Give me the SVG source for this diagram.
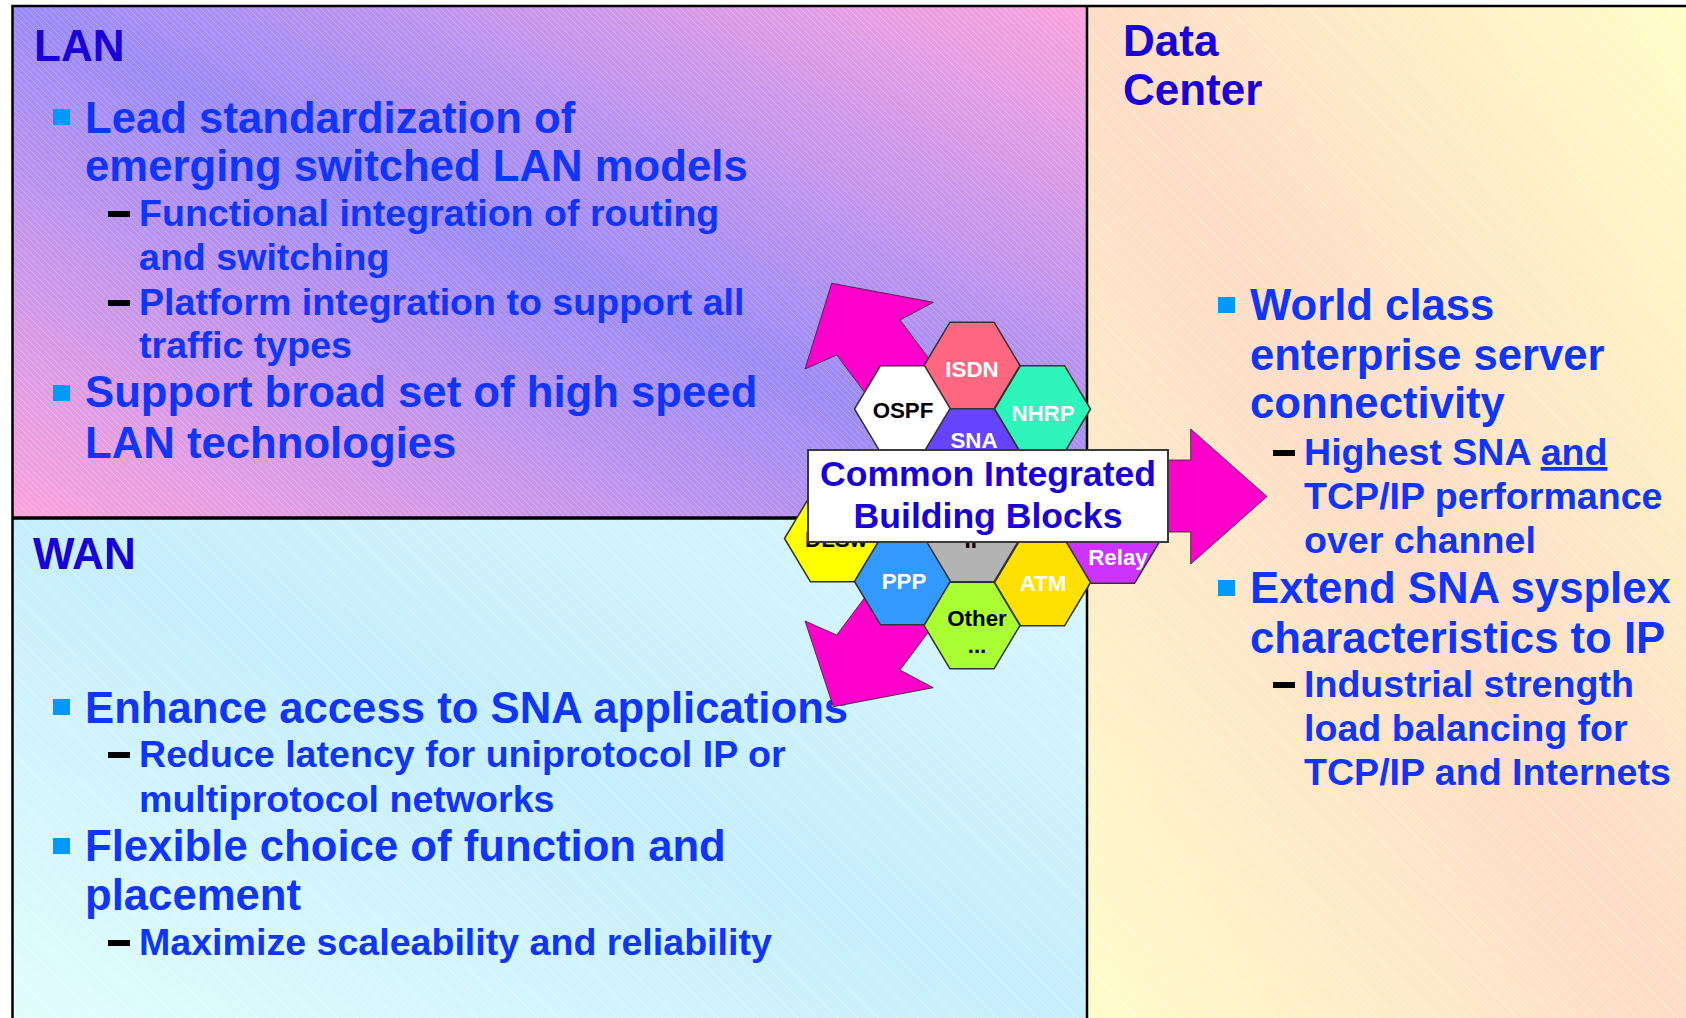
<svg xmlns="http://www.w3.org/2000/svg" width="1686" height="1018" viewBox="0 0 1686 1018">
<defs>
<style>
.t{font-family:"Liberation Sans",Arial,sans-serif;font-weight:bold}
.title{font-size:44px;fill:#1A00D8}
.b1{font-size:43.7px;fill:#1035FA}
.b2{font-size:37.6px;fill:#1035FA}
.sq{fill:#0099FF}
.dash{fill:#000}
.hex{stroke:#333;stroke-width:1.5;stroke-linejoin:round}
.hl{font-size:22.3px;text-anchor:middle}
.w{fill:#fff}
.k{fill:#000}
.arrow{fill:#FF00CC;stroke:#222;stroke-width:0.8;stroke-linejoin:miter}
.frame{stroke:#000;fill:none}
</style>
<linearGradient id="gLan" x1="0" y1="1" x2="1" y2="0">
<stop offset="0" stop-color="#FCA3DC"/>
<stop offset="0.5" stop-color="#9B8BF8"/>
<stop offset="1" stop-color="#FBA3DD"/>
</linearGradient>
<linearGradient id="gWan" x1="0" y1="1" x2="1" y2="0">
<stop offset="0" stop-color="#E2FDFC"/>
<stop offset="0.5" stop-color="#C6EEFD"/>
<stop offset="1" stop-color="#DAF8FC"/>
</linearGradient>
<linearGradient id="gDc" x1="0" y1="1" x2="1" y2="0">
<stop offset="0" stop-color="#FFFCCB"/>
<stop offset="0.5" stop-color="#FDDDC7"/>
<stop offset="1" stop-color="#FFFDC8"/>
</linearGradient>
<pattern id="hLan" width="6" height="6" patternUnits="userSpaceOnUse">
<path d="M-1,-1 L7,7" stroke="#fff" stroke-opacity="0.28" stroke-width="0.8"/>
</pattern>
<pattern id="hLite" width="20" height="20" patternUnits="userSpaceOnUse">
<path d="M-2,-2 L22,22" stroke="#fff" stroke-opacity="0.45" stroke-width="0.8"/>
</pattern>
</defs>

<g id="panel-lan">
<rect x="12.5" y="6" width="1074.5" height="512" fill="url(#gLan)"/>
<rect x="12.5" y="6" width="1074.5" height="512" fill="url(#hLan)"/>
<text class="t title" x="34" y="61">LAN</text>
<rect class="sq" x="53" y="109" width="17" height="16"/>
<text class="t b1" x="85" y="133">Lead standardization of</text>
<text class="t b1" x="85" y="181">emerging switched LAN models</text>
<rect class="dash" x="108" y="211" width="22" height="6"/>
<text class="t b2" x="139" y="226">Functional integration of routing</text>
<text class="t b2" x="139" y="270">and switching</text>
<rect class="dash" x="108" y="300" width="22" height="6"/>
<text class="t b2" x="139" y="315">Platform integration to support all</text>
<text class="t b2" x="139" y="358">traffic types</text>
<rect class="sq" x="53" y="385" width="17" height="16"/>
<text class="t b1" x="85" y="407">Support broad set of high speed</text>
<text class="t b1" x="85" y="458">LAN technologies</text>
</g>

<g id="panel-wan">
<rect x="12.5" y="518" width="1074.5" height="500" fill="url(#gWan)"/>
<rect x="12.5" y="518" width="1074.5" height="500" fill="url(#hLite)"/>
<text class="t title" x="33" y="569">WAN</text>
<rect class="sq" x="53" y="699" width="17" height="16"/>
<text class="t b1" x="85" y="723">Enhance access to SNA applications</text>
<rect class="dash" x="108" y="752" width="22" height="6"/>
<text class="t b2" x="139" y="767">Reduce latency for uniprotocol IP or</text>
<text class="t b2" x="139" y="812">multiprotocol networks</text>
<rect class="sq" x="53" y="838" width="17" height="16"/>
<text class="t b1" x="85" y="861">Flexible choice of function and</text>
<text class="t b1" x="85" y="910">placement</text>
<rect class="dash" x="108" y="940" width="22" height="6"/>
<text class="t b2" x="139" y="955">Maximize scaleability and reliability</text>
</g>

<g id="panel-dc">
<rect x="1087" y="6" width="599" height="1012" fill="url(#gDc)"/>
<rect x="1087" y="6" width="599" height="1012" fill="url(#hLite)"/>
<text class="t title" x="1123" y="56">Data</text>
<text class="t title" x="1123" y="105">Center</text>
<rect class="sq" x="1218" y="297" width="17" height="16"/>
<text class="t b1" x="1250" y="320">World class</text>
<text class="t b1" x="1250" y="370">enterprise server</text>
<text class="t b1" x="1250" y="418">connectivity</text>
<rect class="dash" x="1273" y="450" width="22" height="6"/>
<text class="t b2" x="1304" y="465">Highest SNA <tspan text-decoration="underline">and</tspan></text>
<text class="t b2" x="1304" y="509">TCP/IP performance</text>
<text class="t b2" x="1304" y="553">over channel</text>
<rect class="sq" x="1218" y="580" width="17" height="16"/>
<text class="t b1" x="1250" y="603">Extend SNA sysplex</text>
<text class="t b1" x="1250" y="653">characteristics to IP</text>
<rect class="dash" x="1273" y="682" width="22" height="6"/>
<text class="t b2" x="1304" y="697">Industrial strength</text>
<text class="t b2" x="1304" y="741">load balancing for</text>
<text class="t b2" x="1304" y="785">TCP/IP and Internets</text>
</g>

<g id="frame">
<path class="frame" d="M12.5,1018 V6 H1686" stroke-width="2.5"/>
<path class="frame" d="M12.5,518 H1087" stroke-width="3.5"/>
<path class="frame" d="M1087,5 V1018" stroke-width="2.5"/>
</g>

<g id="connectors">
<polygon class="arrow" points="831.7,283.3 933.3,302.3 900,320 1018.7,478.5 955.4,513.5 836.7,355 805,369"/>
<polygon class="arrow" points="833.3,706.7 933.3,687.7 900,670 1018.7,511.5 955.4,476.5 836.7,635 805,621"/>
<polygon class="arrow" points="1100,460 1190.7,460 1190.7,429 1267,496.5 1190.7,564 1190.7,532 1100,532"/>
</g>

<g id="hex-isdn">
<polygon class="hex" fill="#FF6680" points="924,365.5 950,322.2 994,322.2 1020,365.5 994,408.8 950,408.8"/>
<text class="t hl w" x="972" y="376.5">ISDN</text>
</g>
<g id="hex-ospf">
<polygon class="hex" fill="#FFFFFF" points="854.5,409 880.5,365.7 924.5,365.7 950.5,409 924.5,452.3 880.5,452.3"/>
<text class="t hl k" x="903" y="417.5">OSPF</text>
</g>
<g id="hex-nhrp">
<polygon class="hex" fill="#2EF5BC" points="994.5,409 1020.5,365.7 1064.5,365.7 1090.5,409 1064.5,452.3 1020.5,452.3"/>
<text class="t hl w" x="1043" y="420.5">NHRP</text>
</g>
<g id="hex-sna">
<polygon class="hex" fill="#6644FF" points="924,452 950,408.7 994,408.7 1020,452 994,495.3 950,495.3"/>
<text class="t hl w" x="974" y="447.5">SNA</text>
</g>
<g id="hex-dlsw">
<polygon class="hex" fill="#FFFF00" points="784.5,538.5 810.5,495.2 854.5,495.2 880.5,538.5 854.5,581.8 810.5,581.8"/>
<text class="t hl k" x="836" y="546.5">DLSw</text>
</g>
<g id="hex-ip">
<polygon class="hex" fill="#B3B3B3" points="924,538.5 950,495.2 994,495.2 1020,538.5 994,581.8 950,581.8"/>
<text class="t hl k" x="975" y="548">IP</text>
</g>
<g id="hex-relay">
<polygon class="hex" fill="#CC33FF" points="1064.5,540 1090.5,496.7 1134.5,496.7 1160.5,540 1134.5,583.3 1090.5,583.3"/>
<text class="t hl w" x="1118" y="565">Relay</text>
</g>
<g id="hex-ppp">
<polygon class="hex" fill="#3399FF" points="854.5,581.5 880.5,538.2 924.5,538.2 950.5,581.5 924.5,624.8 880.5,624.8"/>
<text class="t hl w" x="904" y="588.5">PPP</text>
</g>
<g id="hex-atm">
<polygon class="hex" fill="#FFE000" points="994.5,582.5 1020.5,539.2 1064.5,539.2 1090.5,582.5 1064.5,625.8 1020.5,625.8"/>
<text class="t hl w" x="1043" y="590.5">ATM</text>
</g>
<g id="hex-other">
<polygon class="hex" fill="#AAFF33" points="924,625.5 950,582.2 994,582.2 1020,625.5 994,668.8 950,668.8"/>
<text class="t hl k" x="977" y="626">Other</text>
<text class="t hl k" x="977" y="652.5">...</text>
</g>

<g id="label-common">
<rect x="808" y="450" width="360" height="92" fill="#fff" stroke="#3a3a3a" stroke-width="2"/>
<text class="t" x="988" y="486" font-size="35.6" fill="#1A00D8" text-anchor="middle">Common Integrated</text>
<text class="t" x="988" y="527.5" font-size="35.6" fill="#1A00D8" text-anchor="middle">Building Blocks</text>
</g>
</svg>
